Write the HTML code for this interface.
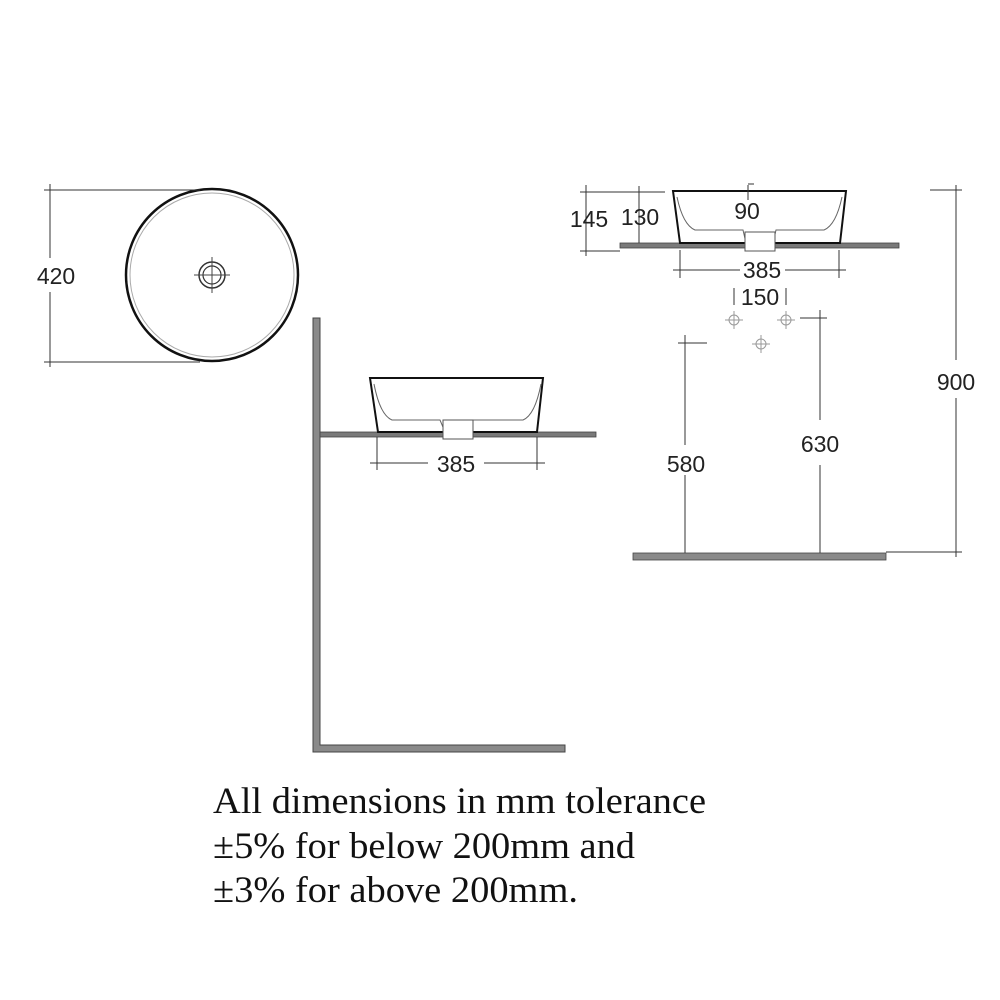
<!DOCTYPE html>
<html><head><style>body{margin:0;background:#fff}svg{display:block}</style></head>
<body>
<svg width="1000" height="1000" viewBox="0 0 1000 1000" xmlns="http://www.w3.org/2000/svg">
<defs>
<g id="ch" stroke="#999" stroke-width="1" fill="none"><circle r="5"/><line x1="-9" y1="0" x2="9" y2="0"/><line x1="0" y1="-9" x2="0" y2="9"/></g>
</defs>
<rect width="1000" height="1000" fill="#fff"/>
<g font-family="Liberation Sans, sans-serif" font-size="23" fill="#222" text-anchor="middle">
<circle cx="212" cy="275" r="86" fill="none" stroke="#111" stroke-width="2.5"/>
<circle cx="212" cy="275" r="82" fill="none" stroke="#aaa" stroke-width="1"/>
<circle cx="212" cy="275" r="13" fill="none" stroke="#333" stroke-width="1.5"/>
<circle cx="212" cy="275" r="9" fill="none" stroke="#333" stroke-width="1.2"/>
<g stroke="#444" stroke-width="1"><line x1="194" y1="275" x2="230" y2="275"/><line x1="212" y1="257" x2="212" y2="293"/></g>
<g stroke="#333" stroke-width="1">
<line x1="44" y1="190" x2="200" y2="190"/><line x1="44" y1="362" x2="200" y2="362"/>
<line x1="50" y1="184" x2="50" y2="258"/><line x1="50" y1="292" x2="50" y2="367"/>
</g>
<text x="56" y="284">420</text>

<path d="M313 318 H320 V745 H565 V752 H313 Z" fill="#8a8a8a" stroke="#444" stroke-width="1"/>
<rect x="320" y="432" width="276" height="5" fill="#7a7a7a" stroke="#444" stroke-width="0.8"/>
<path d="M370 378 L543 378 L537 432 L378 432 Z" fill="#fff" stroke="#111" stroke-width="2"/>
<path d="M374 384 Q380 415 392 420 L440 420 L445 432 M541 384 Q535 415 523 420 L473 420 L470 432" fill="none" stroke="#666" stroke-width="1"/>
<rect x="443" y="420" width="30" height="19" fill="#fff" stroke="#555" stroke-width="1"/>
<g stroke="#333" stroke-width="1">
<line x1="377" y1="437" x2="377" y2="470"/><line x1="537" y1="437" x2="537" y2="470"/>
<line x1="370" y1="463" x2="428" y2="463"/><line x1="484" y1="463" x2="545" y2="463"/>
</g>
<text x="456" y="472">385</text>

<rect x="620" y="243" width="279" height="5" fill="#7a7a7a" stroke="#444" stroke-width="0.8"/>
<path d="M673 191 L846 191 L840 243 L680 243 Z" fill="#fff" stroke="#111" stroke-width="2"/>
<path d="M677 197 Q683 225 695 230 L743 230 L746 243 M842 197 Q836 225 824 230 L776 230 L773 243" fill="none" stroke="#666" stroke-width="1"/>
<rect x="745" y="232" width="30" height="19" fill="#fff" stroke="#555" stroke-width="1"/>
<g stroke="#333" stroke-width="1">
<line x1="580" y1="192" x2="665" y2="192"/><line x1="580" y1="251" x2="620" y2="251"/>
<line x1="586" y1="185" x2="586" y2="256"/><line x1="639" y1="186" x2="639" y2="243"/>
<line x1="748" y1="185" x2="748" y2="200"/><line x1="748" y1="184" x2="754" y2="184"/>
<line x1="680" y1="250" x2="680" y2="278"/><line x1="839" y1="250" x2="839" y2="278"/>
<line x1="673" y1="270" x2="740" y2="270"/><line x1="785" y1="270" x2="846" y2="270"/>
<line x1="734" y1="288" x2="734" y2="305"/><line x1="786" y1="288" x2="786" y2="305"/>
<line x1="800" y1="318" x2="827" y2="318"/><line x1="820" y1="310" x2="820" y2="420"/><line x1="820" y1="465" x2="820" y2="555"/>
<line x1="678" y1="343" x2="707" y2="343"/><line x1="685" y1="335" x2="685" y2="445"/><line x1="685" y1="475" x2="685" y2="555"/>
<line x1="930" y1="190" x2="962" y2="190"/><line x1="956" y1="185" x2="956" y2="360"/><line x1="956" y1="398" x2="956" y2="557"/>
<line x1="886" y1="552" x2="962" y2="552"/>
</g>
<use href="#ch" x="734" y="320"/><use href="#ch" x="786" y="320"/><use href="#ch" x="761" y="344"/>
<rect x="633" y="553" width="253" height="7" fill="#8a8a8a" stroke="#444" stroke-width="0.8"/>
<text x="589" y="227">145</text>
<text x="640" y="225">130</text>
<text x="747" y="219">90</text>
<text x="762" y="278">385</text>
<text x="760" y="305">150</text>
<text x="820" y="452">630</text>
<text x="686" y="472">580</text>
<text x="956" y="390">900</text>
</g>
<g font-family="Liberation Serif, serif" font-size="37" fill="#111">
<text x="213" y="813" textLength="493" lengthAdjust="spacingAndGlyphs">All dimensions in mm tolerance</text>
<text x="213" y="858" textLength="422" lengthAdjust="spacingAndGlyphs">±5% for below 200mm and</text>
<text x="213" y="902" textLength="365" lengthAdjust="spacingAndGlyphs">±3% for above 200mm.</text>
</g>
</svg>
</body></html>
